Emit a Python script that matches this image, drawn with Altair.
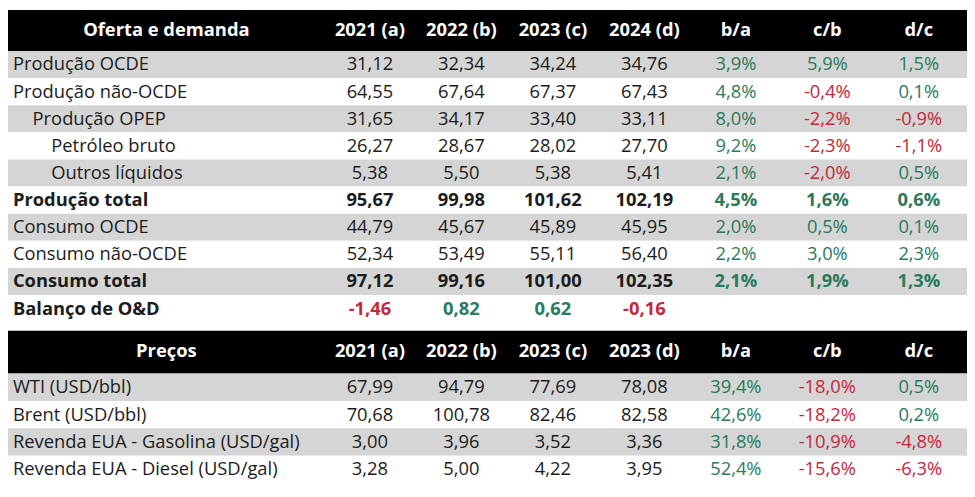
import altair as alt
import pandas as pd

# ---------------- data ----------------
header1 = ["Oferta e demanda", "2021 (a)", "2022 (b)", "2023 (c)", "2024 (d)", "b/a", "c/b", "d/c"]
header2 = ["Preços", "2021 (a)", "2022 (b)", "2023 (c)", "2023 (d)", "b/a", "c/b", "d/c"]

od_labels = ["Produção OCDE", "Produção não-OCDE", "Produção OPEP", "Petróleo bruto",
             "Outros líquidos", "Produção total", "Consumo OCDE", "Consumo não-OCDE",
             "Consumo total", "Balanço de O&D"]
od_2021 = [31.12, 64.55, 31.65, 26.27, 5.38, 95.67, 44.79, 52.34, 97.12, -1.46]
od_2022 = [32.34, 67.64, 34.17, 28.67, 5.50, 99.98, 45.67, 53.49, 99.16, 0.82]
od_2023 = [34.24, 67.37, 33.40, 28.02, 5.38, 101.62, 45.89, 55.11, 101.00, 0.62]
od_2024 = [34.76, 67.43, 33.11, 27.70, 5.41, 102.19, 45.95, 56.40, 102.35, -0.16]
od_ba = [3.9, 4.8, 8.0, 9.2, 2.1, 4.5, 2.0, 2.2, 2.1, None]
od_cb = [5.9, -0.4, -2.2, -2.3, -2.0, 1.6, 0.5, 3.0, 1.9, None]
od_dc = [1.5, 0.1, -0.9, -1.1, 0.5, 0.6, 0.1, 2.3, 1.3, None]

pr_labels = ["WTI (USD/bbl)", "Brent (USD/bbl)", "Revenda EUA - Gasolina (USD/gal)",
             "Revenda EUA - Diesel (USD/gal)"]
pr_2021 = [67.99, 70.68, 3.00, 3.28]
pr_2022 = [94.79, 100.78, 3.96, 5.00]
pr_2023c = [77.69, 82.46, 3.52, 4.22]
pr_2023d = [78.08, 82.58, 3.36, 3.95]
pr_ba = [39.4, 42.6, 31.8, 52.4]
pr_cb = [-18.0, -18.2, -10.9, -15.6]
pr_dc = [0.5, 0.2, -4.8, -6.3]

# ---------------- styles / layout ----------------
od_indent = [0, 0, 1, 2, 2, 0, 0, 0, 0, 0]
od_bold = [0, 0, 0, 0, 0, 1, 0, 0, 1, 1]
od_signed_values = [0] * 9 + [1]
indent_x = [5, 25, 44]
col_x = [368, 461, 554, 647, 740, 833, 926]
head_label_x = 161
W_REF, H_REF = 975, 497
GRAY, BLACK, WHITE = "#D4D5D4", "#000000", "#FFFFFF"
GREEN, RED, INK = "#2A7A5C", "#C3283B", "#1C1C1C"
FONT = "Open Sans"
FS = 18.5


def fmt(v, dec=2):
    s = f"{abs(v):.{dec}f}".replace(".", ",")
    return ("-" if v < 0 else "") + s


def pct(v):
    return fmt(v, 1) + "%"


rects, texts = [], []


def add_rect(y0, y1, fill):
    rects.append({"x": 0, "x2": W_REF, "y": y0, "y2": y1, "fill": fill})


# style: 0 = regular left, 1 = regular center, 2 = bold left, 3 = bold center
def add_text(x, y, t, color, bold, center):
    texts.append({"px": x, "py": y, "label": t, "col": color,
                  "style": (2 if bold else 0) + (1 if center else 0)})


# header 1
h1_top, h1_bot = 0, 43
add_rect(h1_top, h1_bot, BLACK)
yc = (h1_top + h1_bot) / 2
add_text(head_label_x, yc, header1[0], WHITE, True, True)
for j, h in enumerate(header1[1:]):
    add_text(col_x[j], yc, h, WHITE, True, True)

row_h = 28.5
for i, lab in enumerate(od_labels):
    top = h1_bot + row_h * i
    add_rect(top, top + row_h, GRAY if i % 2 == 0 else WHITE)
    yc = top + row_h / 2
    b = bool(od_bold[i])
    add_text(indent_x[od_indent[i]], yc, lab, INK, b, False)
    for j, arr in enumerate([od_2021, od_2022, od_2023, od_2024]):
        v = arr[i]
        c = (GREEN if v >= 0 else RED) if od_signed_values[i] else INK
        add_text(col_x[j], yc, fmt(v), c, b, True)
    for j, arr in enumerate([od_ba, od_cb, od_dc]):
        v = arr[i]
        if v is None:
            continue
        add_text(col_x[4 + j], yc, pct(v), GREEN if v >= 0 else RED, b, True)

# header 2
h2_top, h2_bot = 337, 382
add_rect(h2_top, h2_bot, BLACK)
yc = (h2_top + h2_bot) / 2 - 1
add_text(head_label_x, yc, header2[0], WHITE, True, True)
for j, h in enumerate(header2[1:]):
    add_text(col_x[j], yc, h, WHITE, True, True)

prow_h = (H_REF - h2_bot) / len(pr_labels)
for i, lab in enumerate(pr_labels):
    top = h2_bot + prow_h * i
    add_rect(top, top + prow_h, GRAY if i % 2 == 0 else WHITE)
    yc = top + prow_h / 2
    add_text(indent_x[0], yc, lab, INK, False, False)
    for j, arr in enumerate([pr_2021, pr_2022, pr_2023c, pr_2023d]):
        add_text(col_x[j], yc, fmt(arr[i]), INK, False, True)
    for j, arr in enumerate([pr_ba, pr_cb, pr_dc]):
        v = arr[i]
        add_text(col_x[4 + j], yc, pct(v), GREEN if v >= 0 else RED, False, True)

rdf = pd.DataFrame(rects)
tdf = pd.DataFrame(texts)

xs = alt.Scale(domain=[0, W_REF], nice=False, zero=False)
ys = alt.Scale(domain=[0, H_REF], nice=False, zero=False, reverse=True)

bg = alt.Chart(rdf).mark_rect().encode(
    x=alt.X("x:Q", scale=xs, axis=None),
    x2="x2:Q",
    y=alt.Y("y:Q", scale=ys, axis=None),
    y2="y2:Q",
    color=alt.Color("fill:N", scale=None),
)

base = alt.Chart(tdf)
layers = [bg]
for style in range(4):
    bold = style >= 2
    align = "center" if style % 2 == 1 else "left"
    layers.append(
        base.transform_filter(alt.datum.style == style).mark_text(
            align=align, baseline="middle", font=FONT, fontSize=FS,
            fontWeight="bold" if bold else 400,
        ).encode(
            x=alt.X("px:Q", scale=xs, axis=None),
            y=alt.Y("py:Q", scale=ys, axis=None),
            text=alt.Text("label:N"),
            color=alt.Color("col:N", scale=None),
        )
    )

chart = alt.layer(*layers).properties(
    width=967, height=477,
    autosize=alt.AutoSizeParams(type="fit", contains="padding"),
    padding=0,
).configure_view(stroke=None)

chart.save("out.html", embed_options={"renderer": "svg", "actions": False})
